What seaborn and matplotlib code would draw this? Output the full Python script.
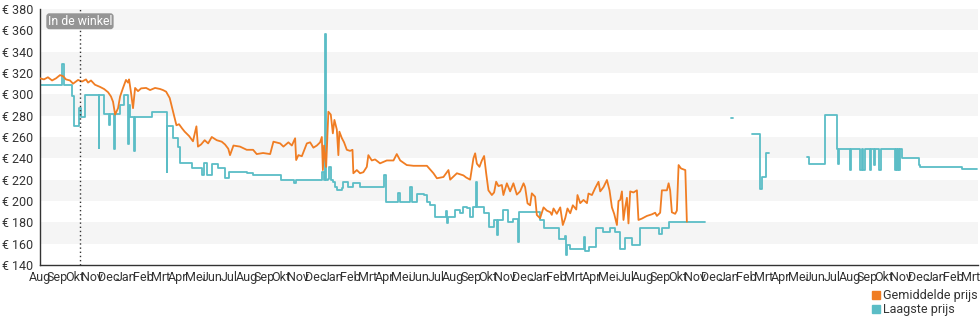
import matplotlib
matplotlib.use("Agg")
import matplotlib.pyplot as plt
from matplotlib.patches import Patch
import seaborn as sns
import pandas as pd

# x positions are months counted from the first "Aug" tick
TICK_LABELS = [
    "Aug", "Sep", "Okt", "Nov", "Dec", "Jan", "Feb", "Mrt", "Apr", "Mei", "Jun", "Jul",
    "Aug", "Sep", "Okt", "Nov", "Dec", "Jan", "Feb", "Mrt", "Apr", "Mei", "Jun", "Jul",
    "Aug", "Sep", "Okt", "Nov", "Dec", "Jan", "Feb", "Mrt", "Apr", "Mei", "Jul",
    "Aug", "Sep", "Okt", "Nov", "Dec", "Jan", "Feb", "Mrt", "Apr", "Mei", "Jun", "Jul",
    "Aug", "Sep", "Okt", "Nov", "Dec", "Jan", "Feb", "Mrt",
]
Y_TICKS = [140, 160, 180, 200, 220, 240, 260, 280, 300, 320, 340, 360, 380]
IN_STORE_MONTH = 2.32

# Gemiddelde prijs (average price)
avg_month = [
    0.00, 0.23, 0.46, 0.70, 0.93, 1.16, 1.34, 1.51, 1.74, 1.92, 2.09, 2.21, 2.44, 2.67,
    2.79, 2.96, 3.19, 3.48, 3.72, 3.95, 4.12, 4.24, 4.36, 4.53, 4.65, 4.82, 4.99, 5.11,
    5.17, 5.28, 5.40, 5.52, 5.69, 5.87, 6.16, 6.39, 6.68, 6.97, 7.14, 7.32, 7.53, 7.72,
    7.92, 8.07, 8.25, 8.40, 8.65, 8.88, 9.08, 9.17, 9.35, 9.56, 9.76, 9.97, 10.26, 10.55,
    10.74, 10.93, 11.03, 11.23, 11.61, 12.00, 12.37, 12.58, 12.95, 13.36, 13.55, 13.94,
    14.13, 14.42, 14.62, 14.81, 14.87, 15.00, 15.20, 15.49, 15.68, 15.87, 16.07, 16.26,
    16.36, 16.42, 16.49, 16.61, 16.74, 16.88, 17.00, 17.09, 17.23, 17.32, 17.38, 17.52,
    17.65, 17.81, 18.00, 18.14, 18.19, 18.39, 18.58, 18.77, 18.97, 19.06, 19.26, 19.45,
    19.74, 20.13, 20.52, 20.71, 20.91, 21.29, 21.68, 22.07, 22.46, 22.84, 23.04, 23.42,
    23.71, 23.81, 24.20, 24.58, 24.74, 24.97, 25.16, 25.26, 25.36, 25.51, 25.65, 25.78,
    25.90, 26.03, 26.23, 26.36, 26.48, 26.61, 26.81, 26.90, 27.10, 27.29, 27.48, 27.68,
    27.87, 28.07, 28.16, 28.30, 28.45, 28.55, 28.74, 28.84, 29.03, 29.23, 29.42, 29.62,
    29.71, 29.81, 30.00, 30.20, 30.35, 30.49, 30.62, 30.78, 30.93, 31.13, 31.20, 31.36,
    31.55, 31.75, 31.84, 32.04, 32.23, 32.42, 32.52, 32.71, 32.91, 33.06, 33.20, 33.33,
    33.49, 33.58, 33.68, 33.78, 33.87, 33.97, 34.07, 34.16, 34.26, 34.45, 34.65, 34.74,
    34.94, 35.23, 35.52, 35.71, 35.81, 36.00, 36.10, 36.39, 36.49, 36.58, 36.68, 36.87,
    36.97, 37.07, 37.21, 37.46, 37.55,
]
avg_price = [
    315, 314, 316, 313, 315, 318, 317, 314, 313, 310, 312, 313.5, 312, 314,
    311, 313, 309, 307, 305, 302, 298, 293, 281, 287, 298, 306, 313.5, 311,
    314, 302, 287, 306, 303, 305.6, 306, 304, 306, 305, 304, 302.5, 296.5, 284,
    271, 272, 268, 265, 261, 256, 270, 251, 253, 257, 254, 260, 257, 255.6,
    253, 249, 243, 252, 251, 248, 248, 244, 245, 244, 255.6, 254,
    251, 255, 252, 258.8, 238.4, 243, 242, 254, 255, 250, 252, 255,
    260, 229, 252, 232, 283.7, 281, 263.4, 276, 267, 243, 265, 259,
    255, 248, 247, 248, 226, 229, 226, 227, 232, 243, 238, 239,
    235.3, 238, 238, 244, 238, 233.7, 233, 233, 233, 226, 221.3, 222.5,
    229, 220, 226, 224, 222, 220, 240, 244.7, 235, 232, 238, 242.2,
    226, 210, 205.6, 208, 218.1, 214, 215, 205.6, 216.6, 209, 216.6, 206,
    209, 216.6, 213, 197.8, 196, 207.2, 204, 186.9, 183.8, 194, 191, 189.5,
    187, 193, 188, 194, 177.5, 184, 193, 188.5, 196, 192, 205.6, 198,
    201, 198, 207, 205.6, 212.2, 218, 209, 213, 219.7, 210, 194, 188,
    177.5, 200, 201, 209, 182.2, 194, 203, 179, 209, 208, 210, 182.2,
    183.5, 186, 187.5, 189, 186, 189, 210, 210, 216.6, 210, 189.4, 188,
    191, 233.7, 230.5, 229, 180.6,
]

# Laagste prijs (lowest price), drawn as steps in separate runs where data is missing
low_month_a = [
    0.00, 1.28, 1.42, 1.83, 1.97, 2.29, 2.38, 2.64, 3.40, 3.45, 3.72, 3.98, 4.06, 4.28,
    4.36, 4.65, 4.88, 5.08, 5.17, 5.23, 5.43, 5.49, 6.50, 7.35, 7.40, 7.74, 8.03, 8.13,
    8.81, 9.39, 9.52, 9.68, 9.97, 10.35, 10.74, 10.99, 12.00, 12.39, 14.00, 14.75,
    14.84, 16.38, 16.46, 16.55, 16.61, 16.70, 16.78, 16.87, 17.01, 17.13, 17.23, 17.52,
    17.61, 17.90, 18.19, 18.58, 19.98, 20.09, 20.79, 20.91, 21.49, 21.60, 21.89, 22.30,
    22.46, 22.65, 22.94, 23.58, 23.62, 23.69, 24.10, 24.39, 24.58, 24.78, 24.97, 25.16,
    25.32, 25.39, 25.78, 26.09, 26.36, 26.51, 26.57, 26.90, 27.16, 27.48, 27.77, 27.83,
    29.03, 29.23, 30.10, 30.49, 30.55, 30.59, 30.78, 31.55, 31.62, 31.84, 32.29, 32.71,
    33.10, 33.39, 33.68, 33.97, 34.36, 34.84, 35.96, 36.10, 36.54, 38.62,
]
low_price_a = [
    309, 328, 309, 298, 270, 287, 279, 299.4, 249.4, 299.4, 282, 271, 282, 249,
    282, 290, 299, 253, 290, 279, 247, 279, 283, 227.5, 270, 258.7, 251, 235.3,
    230.6, 224.4, 235.3, 224.4, 234.4, 230.6, 221.3, 227.5, 226, 224.4, 219.7, 217,
    219.7, 227.5, 219.7, 357, 219.7, 221, 232, 219.7, 218, 213.4, 210.3, 212,
    218, 213.4, 216.5, 213.4, 224.4, 199.4, 207.2, 198.7, 213.4, 199.4, 207, 206,
    199.4, 196, 185.3, 190.8, 179, 185.3, 191.6, 188.5, 194.7, 193, 185.3, 194.7,
    218, 194.7, 189, 176, 182, 168, 182, 191.6, 180.6, 183.5, 161.6, 189.4,
    182.2, 174.4, 164.7, 167, 149.4, 158.6, 155, 166.2, 153.3, 157, 174.4, 171,
    174.4, 171, 155, 165.2, 159, 174.4, 169, 175, 180, 180,
]
low_month_b = [40.10, 40.22]
low_price_b = [278, 278]
low_month_c = [41.33, 41.77, 41.91, 42.14, 42.29]
low_price_c = [262.5, 211, 222.8, 244.7, 244.7]
low_month_d = [
    44.52, 44.62, 45.59, 46.26, 46.34, 46.40, 47.04, 47.10, 47.62, 47.70, 47.78, 47.90,
    48.20, 48.26, 48.40, 48.46, 48.72, 48.80, 49.62, 49.68, 49.74, 49.80, 49.86, 49.92,
    50.03, 51.01, 51.10, 53.52, 54.41,
]
low_price_d = [
    241.6, 234.7, 280.6, 248.4, 234.7, 248.4, 229, 248.4, 229, 248.4, 229, 248.4,
    229, 248.4, 234, 248.4, 229, 248.4, 229, 248.4, 229, 248.4, 229, 248.4,
    240, 233.7, 232, 229.7, 229.7,
]

ORANGE = "#f07d23"
TEAL = "#5bbdc6"
TEXT = "#333333"

sns.set_style("white")
plt.rcParams["font.family"] = ["Roboto", "DejaVu Sans"]

fig = plt.figure(figsize=(9.8, 3.25), dpi=100)
ax = fig.add_axes([40 / 980, 60 / 325, 938 / 980, 256 / 325])

# alternating horizontal bands
for lo in Y_TICKS[1::2]:
    ax.axhspan(lo, lo + 20, color="#f5f5f5", lw=0, zorder=0)

avg_df = pd.DataFrame({"month": avg_month, "price": avg_price})
runs = [(low_month_a, low_price_a), (low_month_b, low_price_b),
        (low_month_c, low_price_c), (low_month_d, low_price_d)]
low_df = pd.concat(
    [pd.DataFrame({"month": m, "price": p, "run": i}) for i, (m, p) in enumerate(runs)],
    ignore_index=True,
)

sns.lineplot(data=avg_df, x="month", y="price", color=ORANGE, lw=1.3,
             estimator=None, sort=False, ax=ax, zorder=3)
sns.lineplot(data=low_df, x="month", y="price", units="run", color=TEAL, lw=1.3,
             estimator=None, sort=False, drawstyle="steps-post", ax=ax, zorder=2)

# "In de winkel" marker
ax.axvline(IN_STORE_MONTH, color=TEXT, lw=1.0, ls=(0, (1, 2)), zorder=4)
ax.text(IN_STORE_MONTH, 368.5, "In de winkel", ha="center", va="center", fontsize=8.8,
        color="white", zorder=5,
        bbox=dict(boxstyle="round,pad=0.12,rounding_size=0.25", fc="#959595", ec="none"))

ax.set_xlim(0, 54.45)
ax.set_ylim(140, 380)
ax.set_xticks(range(len(TICK_LABELS)))
ax.set_xticklabels(TICK_LABELS)
ax.set_yticks(Y_TICKS)
ax.set_yticklabels([f"€ {v}" for v in Y_TICKS])
ax.tick_params(axis="both", direction="out", length=4, width=0.8, color=TEXT,
               labelcolor=TEXT, labelsize=9, pad=1)
ax.tick_params(axis="x", pad=0)
ax.set_xlabel("")
ax.set_ylabel("")
sns.despine(ax=ax)
for side in ("left", "bottom"):
    ax.spines[side].set_color(TEXT)
    ax.spines[side].set_linewidth(1.0)
if ax.get_legend() is not None:
    ax.get_legend().remove()

handles = [Patch(color=ORANGE, label="Gemiddelde prijs"),
           Patch(color=TEAL, label="Laagste prijs")]
fig.legend(handles=handles, loc="upper left", bbox_to_anchor=(872 / 980, 1 - 289 / 325),
           frameon=False, handlelength=0.6, handleheight=0.6, handletextpad=0.3,
           labelspacing=0.1, borderpad=0, borderaxespad=0, fontsize=9,
           labelcolor=TEXT)

fig.savefig("out.png", dpi=100, facecolor="white")
